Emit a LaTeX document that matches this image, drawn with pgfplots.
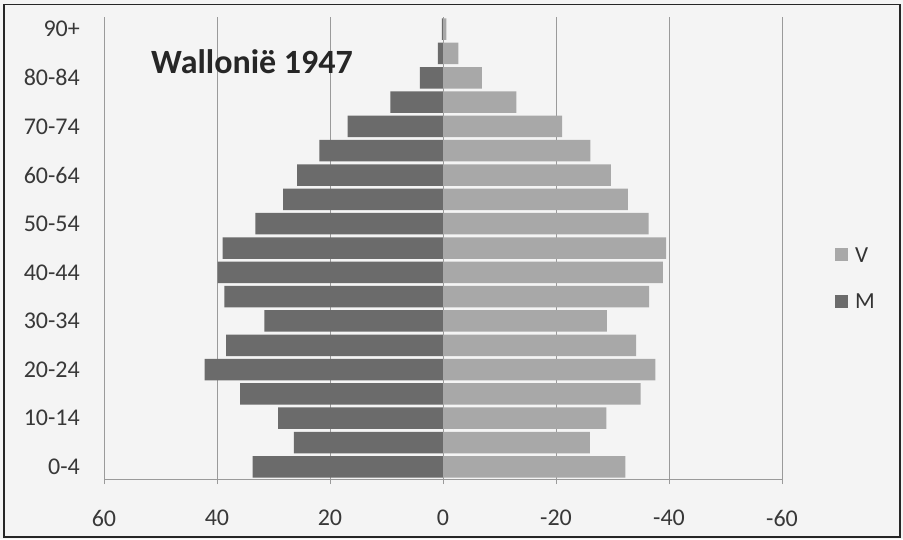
\documentclass[border=0pt]{standalone}
\usepackage{fontspec}
\setmainfont{Carlito}
\usepackage{pgfplots}
\usepackage{pgfplotstable}
\pgfplotsset{compat=1.18}
\definecolor{bg}{HTML}{F4F4F4}
\definecolor{mcol}{HTML}{6B6B6B}
\definecolor{vcol}{HTML}{A8A8A8}
\definecolor{gridc}{HTML}{9A9A9A}
\pgfplotstableread{
y M V
0 33.7 -32.3
1 26.4 -26.0
2 29.2 -28.9
3 35.9 -35.0
4 42.2 -37.6
5 38.4 -34.2
6 31.6 -29.0
7 38.7 -36.5
8 39.9 -38.9
9 39.0 -39.5
10 33.2 -36.4
11 28.3 -32.7
12 25.8 -29.7
13 21.9 -26.1
14 16.9 -21.1
15 9.3 -13.0
16 4.1 -6.9
17 0.9 -2.7
18 0.2 -0.6
}\data
\begin{document}
\begin{tikzpicture}[x=1pt,y=1pt]
\fill[bg] (0,0) rectangle (903,539);
\draw[line width=1.5pt, black!85] (4,2) rectangle (900,534.5);
\begin{axis}[
  at={(443pt,60pt)}, anchor=south,
  scale only axis, width=678pt, height=462pt,
  xbar, bar width=21.5pt, bar shift=0pt,
  xmin=-60, xmax=60, x dir=reverse,
  ymin=-0.5, ymax=18.5,
  axis x line*=bottom,
  y axis line style={draw=none},
  x axis line style={gridc, line width=0.8pt},
  xmajorgrids, grid style={gridc, line width=0.8pt},
  xtick={-60,-40,-20,0,20,40,60},
  xticklabels={-60,-40,-20,0,20,40,60},
  xtick align=outside, xtick pos=bottom,
  major tick length=5pt,
  xtick style={gridc, line width=0.8pt},
  ytick={0,2,4,6,8,10,12,14,16,18},
  yticklabels={0-4,10-14,20-24,30-34,40-44,50-54,60-64,70-74,80-84,90+},
  ytick style={draw=none},
  ticklabel style={font=\fontsize{24}{28}\selectfont, text=black!78},
  yticklabel style={anchor=east, inner sep=0pt, xshift=-19pt},
  xticklabel style={anchor=north, inner sep=0pt, yshift=-26pt},
  legend image code/.code={\fill[#1,draw=none] (0pt,-6.5pt) rectangle (13pt,6.5pt);},
  legend style={at={(1.078,0.435)}, anchor=west, draw=none, fill=none,
    inner sep=0pt, row sep=31.5pt, column sep=7pt,
    nodes={inner sep=0pt, text height=15pt, text depth=0pt, font=\fontsize{23}{27}\selectfont, text=black!80}},
  legend cell align=left,
]
\addplot[fill=vcol, draw=none] table[x=V, y=y] {\data};
\addlegendentry{V}
\addplot[fill=mcol, draw=none] table[x=M, y=y] {\data};
\addlegendentry{M}
\node[font=\bfseries\fontsize{34}{39}\selectfont, text=black!85] at (axis cs:33.8,16.66) {Wallonië 1947};
\end{axis}
\end{tikzpicture}
\end{document}
